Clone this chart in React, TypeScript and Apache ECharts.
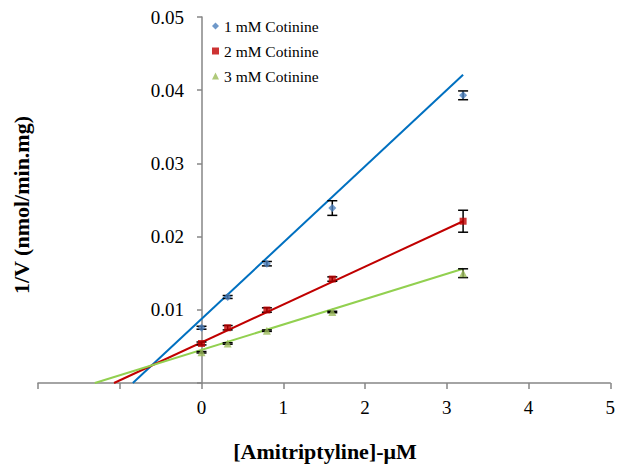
import React, { useEffect, useRef } from "react";
import * as echarts from "echarts";

const seriesNames = ["1 mM Cotinine", "2 mM Cotinine", "3 mM Cotinine"];
const xValues = [0, 0.32, 0.8, 1.6, 3.2];
const yBlue = [0.00755, 0.01175, 0.0163, 0.0239, 0.0393];
const yRed = [0.0054, 0.00755, 0.00997, 0.0142, 0.0221];
const yGreen = [0.0042, 0.0054, 0.00715, 0.0097, 0.0150];
const errBlue = [0.0002, 0.0002, 0.0003, 0.001, 0.0006];
const errRed = [0.0002, 0.0003, 0.0003, 0.0003, 0.0015];
const errGreen = [0.0001, 0.0001, 0.0001, 0.0001, 0.0006];
// trend line endpoints [x, y]
const trendBlue = [[-0.84, 0], [3.2, 0.0421]];
const trendRed = [[-1.07, 0], [3.2, 0.0221]];
const trendGreen = [[-1.305, 0], [3.2, 0.0156]];

const markerColors = ["#4A7EBB", "#C00000", "#9BBB59"];
const lineColors = ["#0070C0", "#C00000", "#92D050"];
const symbols = ["diamond", "rect", "triangle"];
const symbolSizes = [8, 7, 8];

const FONT = "Liberation Serif";

export default function App() {
  const ref = useRef<HTMLDivElement>(null);
  useEffect(() => {
    if (!ref.current) return;
    const chart = echarts.init(ref.current, undefined, { renderer: "svg" });
    const ys = [yBlue, yRed, yGreen];
    const errs = [errBlue, errRed, errGreen];
    const trends = [trendBlue, trendRed, trendGreen];

    const series: any[] = [];
    trends.forEach((t, i) => {
      series.push({
        type: "line",
        data: t,
        showSymbol: false,
        symbol: "none",
        lineStyle: { color: lineColors[i], width: 2 },
        z: 2,
        silent: true,
      });
    });
    ys.forEach((y, i) => {
      series.push({
        type: "custom",
        data: xValues.map((x, k) => [x, y[k] - errs[i][k], y[k] + errs[i][k]]),
        renderItem: (params: any, api: any) => {
          const x = api.value(0);
          const lo = api.coord([x, api.value(1)]);
          const hi = api.coord([x, api.value(2)]);
          const hw = 5;
          const style = { stroke: "#000", lineWidth: 1.5 };
          return {
            type: "group",
            children: [
              { type: "line", shape: { x1: lo[0], y1: lo[1], x2: hi[0], y2: hi[1] }, style },
              { type: "line", shape: { x1: lo[0] - hw, y1: lo[1], x2: lo[0] + hw, y2: lo[1] }, style },
              { type: "line", shape: { x1: hi[0] - hw, y1: hi[1], x2: hi[0] + hw, y2: hi[1] }, style },
            ],
          };
        },
        z: 3,
        silent: true,
      });
    });
    ys.forEach((y, i) => {
      series.push({
        name: seriesNames[i],
        type: "scatter",
        data: xValues.map((x, k) => [x, y[k]]),
        symbol: symbols[i],
        symbolSize: symbolSizes[i],
        itemStyle: { color: markerColors[i] },
        z: 4,
      });
    });

    chart.setOption({
      animation: false,
      textStyle: { fontFamily: FONT },
      grid: { left: 38, right: 6, top: 17, bottom: 87, containLabel: false },
      legend: {
        orient: "vertical",
        left: 207,
        top: 13,
        itemGap: 9,
        itemWidth: 7,
        itemHeight: 7,
        data: seriesNames.map((n, i) => ({ name: n, icon: symbols[i] })),
        textStyle: { fontFamily: FONT, fontSize: 15.5, color: "#000" },
      },
      xAxis: {
        type: "value",
        min: -2,
        max: 5,
        interval: 1,
        splitLine: { show: false },
        axisLine: { onZero: false, lineStyle: { color: "#868686", width: 1.5 } },
        axisTick: { show: true, length: 6, lineStyle: { color: "#868686", width: 1.5 } },
        axisLabel: {
          color: "#000",
          fontSize: 19,
          fontFamily: FONT,
          margin: 15,
          formatter: (v: number) => (v < 0 ? "" : String(v)),
        },
      },
      yAxis: {
        type: "value",
        min: 0,
        max: 0.05,
        interval: 0.01,
        offset: -164,
        splitLine: { show: false },
        axisLine: { onZero: false, lineStyle: { color: "#868686", width: 1.5 } },
        axisTick: { show: true, length: 5, lineStyle: { color: "#868686", width: 1.5 } },
        axisLabel: {
          color: "#000",
          fontSize: 19,
          fontFamily: FONT,
          margin: 18,
          formatter: (v: number) => (v === 0 ? "" : v.toFixed(2)),
        },
      },
      graphic: [
        {
          type: "text",
          x: 21,
          y: 205,
          rotation: Math.PI / 2,
          style: {
            text: "1/V (nmol/min.mg)",
            fontFamily: FONT,
            fontSize: 22,
            fontWeight: "bold",
            fill: "#000",
            align: "center",
            verticalAlign: "middle",
          },
        },
        {
          type: "text",
          x: 325,
          y: 451,
          style: {
            text: "[Amitriptyline]-μM",
            fontFamily: FONT,
            fontSize: 22,
            fontWeight: "bold",
            fill: "#000",
            align: "center",
            verticalAlign: "middle",
          },
        },
      ],
      series,
    });
    return () => chart.dispose();
  }, []);
  return <div ref={ref} style={{ width: 618, height: 470, position: "absolute", left: 0, top: 0 }} />;
}
